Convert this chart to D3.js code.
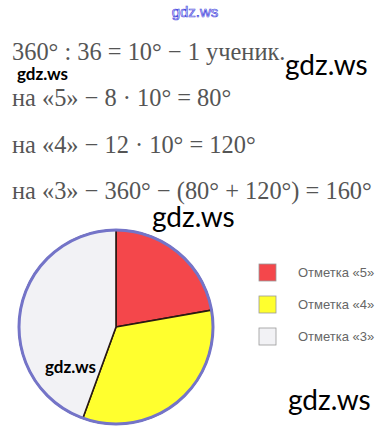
<!DOCTYPE html>
<html>
<head>
<meta charset="utf-8">
<script src="https://cdn.jsdelivr.net/npm/d3@7"></script>
<style>
  body { margin: 0; background: #fff; }
  svg { display: block; }
</style>
</head>
<body>
<div id="chart"></div>
<script>
var width = 389, height = 438;

// данные диаграммы
var marks = ["Отметка «5»", "Отметка «4»", "Отметка «3»"];
var degrees = [80, 120, 160];
var colors = ["#f4474b", "#ffff2e", "#f2f2f5"];

// строки решения
var lines = [
  "360° : 36 = 10° − 1 ученик.",
  "на «5» − 8 · 10° = 80°",
  "на «4» − 12 · 10° = 120°",
  "на «3» − 360° − (80° + 120°) = 160°"
];
var lineBaselines = [60, 106, 153, 199];

// водяные знаки
var marksText = [
  {x: 17, y: 80, size: 17},
  {x: 285, y: 75, size: 28},
  {x: 152, y: 227, size: 28},
  {x: 45, y: 373, size: 17},
  {x: 288, y: 410, size: 28}
];

var svg = d3.select("#chart").append("svg")
    .attr("width", width)
    .attr("height", height);

// верхний голубой знак
svg.append("text")
    .attr("x", 195).attr("y", 17)
    .attr("text-anchor", "middle")
    .style("font-family", "Liberation Sans, Arial, sans-serif")
    .style("font-size", "15px")
    .style("fill", "#fff")
    .style("stroke", "#4a4ae0")
    .style("stroke-width", 0.7)
    .text("gdz.ws");

// текст решения
svg.selectAll("text.line")
    .data(lines)
    .enter().append("text")
    .attr("class", "line")
    .attr("x", 12)
    .attr("y", function(d, i) { return lineBaselines[i]; })
    .style("font-family", "Liberation Serif, Times New Roman, serif")
    .style("font-size", "24.4px")
    .style("fill", "#555")
    .text(function(d) { return d; });

// круговая диаграмма
var cx = 116, cy = 327, r = 97;
var pie = d3.pie().sort(null).value(function(d) { return d; });
var arc = d3.arc().innerRadius(0).outerRadius(r);

var g = svg.append("g").attr("transform", "translate(" + cx + "," + cy + ")");

g.selectAll("path.slice")
    .data(pie(degrees))
    .enter().append("path")
    .attr("class", "slice")
    .attr("d", arc)
    .attr("fill", function(d, i) { return colors[i]; })
    .attr("stroke", "#2a1a12")
    .attr("stroke-width", 1.6);

g.append("circle")
    .attr("r", r)
    .attr("fill", "none")
    .attr("stroke", "#7474c8")
    .attr("stroke-width", 3);

// легенда
var legend = svg.selectAll("g.legend")
    .data(marks)
    .enter().append("g")
    .attr("class", "legend")
    .attr("transform", function(d, i) { return "translate(259," + (264 + i * 32) + ")"; });

legend.append("rect")
    .attr("width", 17)
    .attr("height", 17)
    .attr("fill", function(d, i) { return colors[i]; })
    .attr("stroke", "#9a9a9a")
    .attr("stroke-width", 0.8);

legend.append("text")
    .attr("x", 39)
    .attr("y", 13)
    .style("font-family", "Liberation Sans, Arial, sans-serif")
    .style("font-size", "13px")
    .style("fill", "#666")
    .text(function(d) { return d; });

// водяные знаки gdz.ws
svg.selectAll("text.wm")
    .data(marksText)
    .enter().append("text")
    .attr("class", "wm")
    .attr("x", function(d) { return d.x; })
    .attr("y", function(d) { return d.y; })
    .style("font-family", "Lato, Open Sans, sans-serif")
    .style("font-weight", function(d) { return d.size < 20 ? "bold" : "normal"; })
    .style("font-size", function(d) { return d.size + "px"; })
    .style("fill", "#000")
    .text("gdz.ws");
</script>
</body>
</html>
